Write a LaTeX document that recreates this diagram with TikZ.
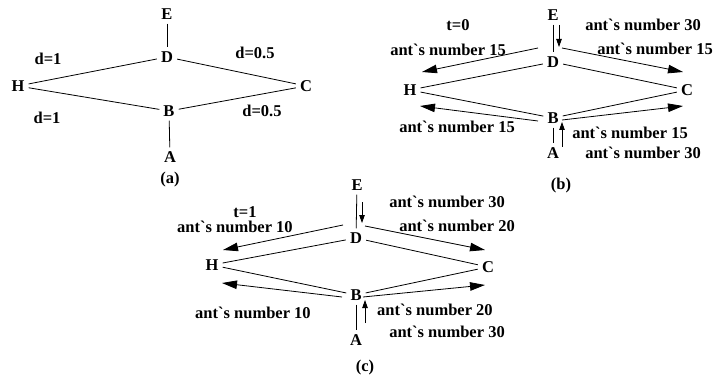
\documentclass[tikz,border=0pt]{standalone}
\usepackage{fontspec}
\setmainfont{Liberation Serif}
\usetikzlibrary{arrows.meta}

\newcommand{\antnum}[1]{ant\textasciigrave s number #1}

\begin{document}
\begin{tikzpicture}[
  x=1pt, y=-1pt,
  font=\bfseries\fontsize{16.5}{18}\selectfont,
  vtx/.style={inner sep=4pt},
  lbl/.style={inner sep=0pt},
  edge/.style={line width=0.8pt},
  flow/.style={line width=0.8pt, -{Triangle[length=15pt,width=8.5pt]}},
  vflow/.style={line width=0.8pt, -{Triangle[length=8pt,width=5.5pt]}},
]
\useasboundingbox (0,0) rectangle (715,377);

% ---- (a) distances ----
\node[vtx] (aE) at (167,14) {E};
\node[vtx] (aD) at (167,57) {D};
\node[vtx] (aH) at (18,86) {H};
\node[vtx] (aC) at (306,86) {C};
\node[vtx] (aB) at (169,111) {B};
\node[vtx] (aA) at (170,157) {A};
\node[lbl] (acap) at (170,180) {(a)};

\draw[edge] (aE) -- (aD);
\draw[edge] (aH) -- (aD);
\draw[edge] (aD) -- (aC);
\draw[edge] (aH) -- (aB);
\draw[edge] (aB) -- (aC);
\draw[edge] (aB) -- (aA);

\node[lbl] (ad1) at (48,59) {d=1};
\node[lbl] (ad2) at (47,118) {d=1};
\node[lbl] (ad3) at (255,53) {d=0.5};
\node[lbl] (ad4) at (262,111) {d=0.5};

% ---- (b) t=0 ----
\node[vtx] (bE) at (553,15) {E};
\node[vtx] (bD) at (553,62) {D};
\node[vtx] (bH) at (410,90) {H};
\node[vtx] (bC) at (687,90) {C};
\node[vtx] (bB) at (553,118) {B};
\node[vtx] (bA) at (553,153) {A};
\node[lbl] (bcap) at (561,186) {(b)};

\draw[edge] (bE) -- (bD);
\draw[edge] (bH) -- (bD);
\draw[edge] (bD) -- (bC);
\draw[edge] (bH) -- (bB);
\draw[edge] (bB) -- (bC);
\draw[edge] (bB) -- (bA);

% arrow ends
\coordinate (bDHs) at (538,48);  \coordinate (bDHe) at (422,72);
\coordinate (bDCs) at (562,48);  \coordinate (bDCe) at (683,72);
\coordinate (bBHs) at (538,121); \coordinate (bBHe) at (420,106);
\coordinate (bBCs) at (562,120); \coordinate (bBCe) at (683,106);
\coordinate (bEDs) at (559,25);  \coordinate (bEDe) at (559,47);
\coordinate (bABs) at (562,147); \coordinate (bABe) at (562,122);

\draw[flow] (bDHs) -- (bDHe);
\draw[flow] (bDCs) -- (bDCe);
\draw[flow] (bBHs) -- (bBHe);
\draw[flow] (bBCs) -- (bBCe);
\draw[vflow] (bEDs) -- (bEDe);
\draw[vflow] (bABs) -- (bABe);

\node[lbl] (bt) at (458,25) {t=0};
\node[lbl] (bn1) at (448,50) {\antnum{15}};
\node[lbl] (bn2) at (643,25) {\antnum{30}};
\node[lbl] (bn3) at (655,49) {\antnum{15}};
\node[lbl] (bn4) at (457,127) {\antnum{15}};
\node[lbl] (bn5) at (630,133) {\antnum{15}};
\node[lbl] (bn6) at (643,153) {\antnum{30}};

% ---- (c) t=1 ----
\node[vtx] (cE) at (357,185) {E};
\node[vtx] (cD) at (356,238) {D};
\node[vtx] (cH) at (212,265) {H};
\node[vtx] (cC) at (488,267) {C};
\node[vtx] (cB) at (356,295) {B};
\node[vtx] (cA) at (356,340) {A};
\node[lbl] (ccap) at (365,368) {(c)};

\draw[edge] (cE) -- (cD);
\draw[edge] (cH) -- (cD);
\draw[edge] (cD) -- (cC);
\draw[edge] (cH) -- (cB);
\draw[edge] (cB) -- (cC);
\draw[edge] (cB) -- (cA);

% arrow ends
\coordinate (cDHs) at (343,225); \coordinate (cDHe) at (223,250);
\coordinate (cDCs) at (365,226); \coordinate (cDCe) at (485,250);
\coordinate (cBHs) at (342,297); \coordinate (cBHe) at (222,283);
\coordinate (cBCs) at (363,297); \coordinate (cBCe) at (485,285);
\coordinate (cEDs) at (362,202); \coordinate (cEDe) at (362,223);
\coordinate (cABs) at (365,323); \coordinate (cABe) at (365,300);

\draw[flow] (cDHs) -- (cDHe);
\draw[flow] (cDCs) -- (cDCe);
\draw[flow] (cBHs) -- (cBHe);
\draw[flow] (cBCs) -- (cBCe);
\draw[vflow] (cEDs) -- (cEDe);
\draw[vflow] (cABs) -- (cABe);

\node[lbl] (ct) at (245,212) {t=1};
\node[lbl] (cn1) at (235,227) {\antnum{10}};
\node[lbl] (cn2) at (447,202) {\antnum{30}};
\node[lbl] (cn3) at (457,226) {\antnum{20}};
\node[lbl] (cn4) at (253,313) {\antnum{10}};
\node[lbl] (cn5) at (435,310) {\antnum{20}};
\node[lbl] (cn6) at (447,332) {\antnum{30}};

\end{tikzpicture}
\end{document}
